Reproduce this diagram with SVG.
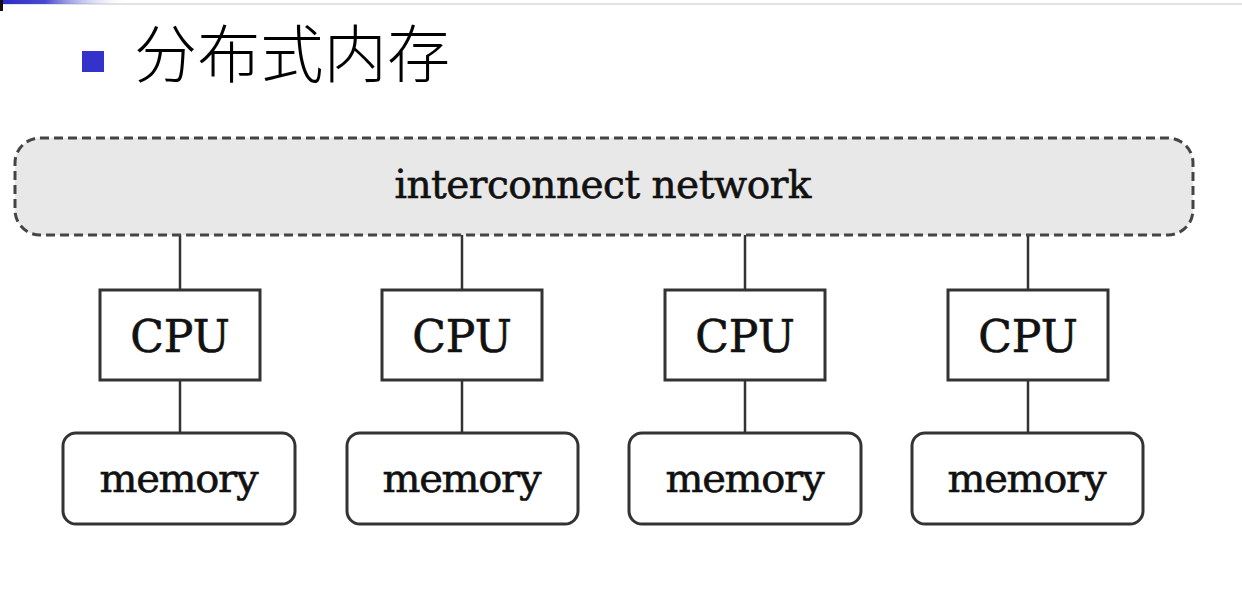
<svg xmlns="http://www.w3.org/2000/svg" width="1242" height="589" viewBox="0 0 1242 589">
<style>
.box{fill:#fff;stroke:#333;stroke-width:3}
.lbl{font-family:"DejaVu Serif","Liberation Serif",serif;fill:#111;stroke:#111;stroke-width:0.6;text-anchor:middle}
.cpu{font-size:44px}
.mem{font-size:40px}
.conn{stroke:#333;stroke-width:2.5;fill:none}
</style>
<defs>
<linearGradient id="bar" x1="0" y1="0" x2="1" y2="0">
<stop offset="0" stop-color="#2b2bc8"/>
<stop offset="0.35" stop-color="#4a4ad0"/>
<stop offset="1" stop-color="#ffffff" stop-opacity="0"/>
</linearGradient>
</defs>
<rect x="0" y="0" width="1242" height="589" fill="#fff"/>
<rect x="0" y="3" width="1242" height="2" fill="#e2e2e2"/>
<rect x="0" y="0" width="130" height="4" fill="url(#bar)"/>
<rect x="0" y="0" width="3" height="11" fill="#111"/>
<g id="title">
<rect x="82" y="51" width="22" height="21" fill="#3333cc"/>
<text x="134" y="77" font-family="'Noto Sans CJK SC',sans-serif" font-size="63" font-weight="300" fill="#000" textLength="316">分布式内存</text>
</g>
<g id="connectors">
<line class="conn" x1="180" y1="235" x2="180" y2="290"/>
<line class="conn" x1="462" y1="235" x2="462" y2="290"/>
<line class="conn" x1="745" y1="235" x2="745" y2="290"/>
<line class="conn" x1="1028" y1="235" x2="1028" y2="290"/>
<line class="conn" x1="180" y1="380" x2="180" y2="433"/>
<line class="conn" x1="462" y1="380" x2="462" y2="433"/>
<line class="conn" x1="745" y1="380" x2="745" y2="433"/>
<line class="conn" x1="1028" y1="380" x2="1028" y2="433"/>
</g>
<g id="network">
<rect x="15" y="138" width="1178" height="97" rx="25" ry="25" fill="#e8e8e8" stroke="#444" stroke-width="3" stroke-dasharray="9,5"/>
<text class="lbl" x="603" y="198" font-size="39" textLength="417">interconnect network</text>
</g>
<g id="cpu1"><rect class="box" x="100" y="290" width="160" height="90"/><text class="lbl cpu" x="180" y="352">CPU</text></g>
<g id="cpu2"><rect class="box" x="382" y="290" width="160" height="90"/><text class="lbl cpu" x="462" y="352">CPU</text></g>
<g id="cpu3"><rect class="box" x="665" y="290" width="160" height="90"/><text class="lbl cpu" x="745" y="352">CPU</text></g>
<g id="cpu4"><rect class="box" x="948" y="290" width="160" height="90"/><text class="lbl cpu" x="1028" y="352">CPU</text></g>
<g id="mem1"><rect class="box" x="63" y="433" width="232" height="91" rx="13"/><text class="lbl mem" x="179" y="492" textLength="159">memory</text></g>
<g id="mem2"><rect class="box" x="347" y="433" width="231" height="91" rx="13"/><text class="lbl mem" x="462" y="492" textLength="159">memory</text></g>
<g id="mem3"><rect class="box" x="629" y="433" width="232" height="91" rx="13"/><text class="lbl mem" x="745" y="492" textLength="159">memory</text></g>
<g id="mem4"><rect class="box" x="912" y="433" width="231" height="91" rx="13"/><text class="lbl mem" x="1027" y="492" textLength="159">memory</text></g>
</svg>
